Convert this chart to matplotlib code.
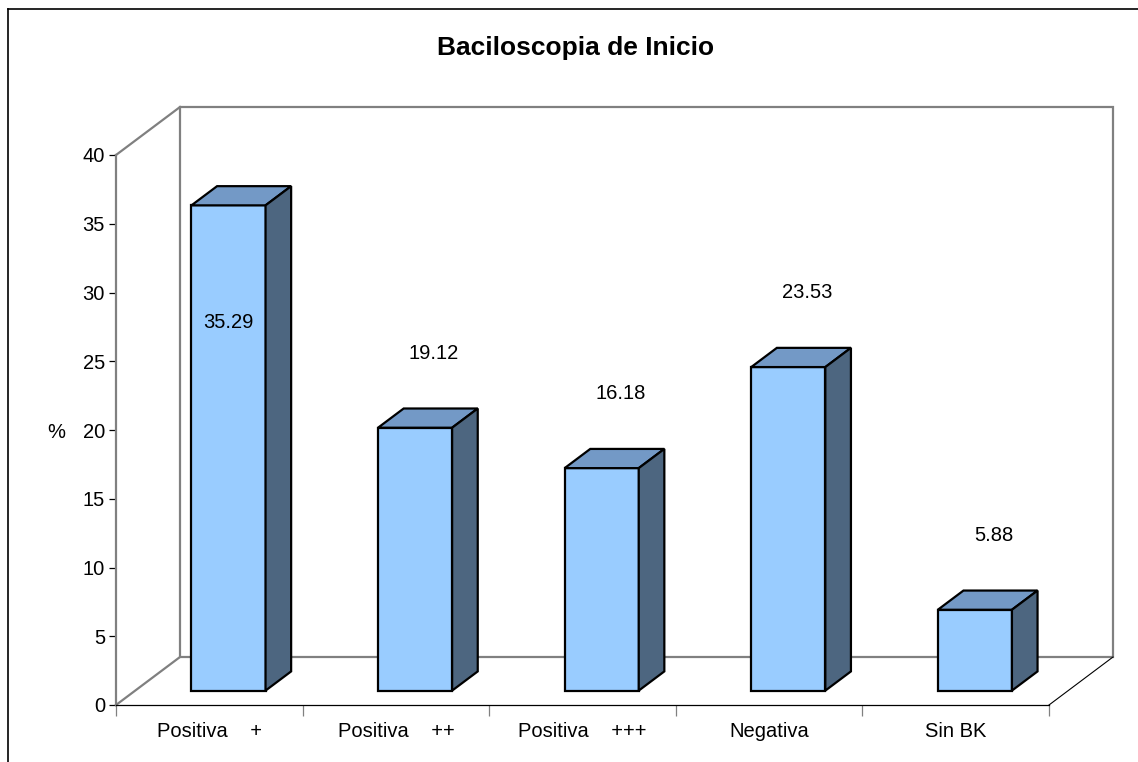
import matplotlib
matplotlib.use("Agg")
import matplotlib.pyplot as plt
from matplotlib.patches import Polygon, Rectangle
from matplotlib.lines import Line2D

# datos de baciloscopia de inicio (%)
categorias = ["Positiva    +", "Positiva    ++", "Positiva    +++", "Negativa", "Sin BK"]
valores = [35.29, 19.12, 16.18, 23.53, 5.88]
ticks_y = [0, 5, 10, 15, 20, 25, 30, 35, 40]

plt.rcParams['font.family'] = ['Liberation Sans', 'DejaVu Sans']
FS = 14.5

W, H = 1138, 762
fig = plt.figure(figsize=(W / 100, H / 100), dpi=100)
fig.patch.set_facecolor('white')

# marco exterior
fig.add_artist(Line2D([8 / W, 8 / W], [0, 1 - 9 / H], color='black', lw=1.2))
fig.add_artist(Line2D([8 / W, 1], [1 - 9 / H, 1 - 9 / H], color='black', lw=1.2))

ax = fig.add_axes([116 / W, 57 / H, 933 / W, 550 / H])
n = len(valores)
ax.set_xlim(-0.5, n - 0.5)
ax.set_ylim(0, 40)

# profundidad de la perspectiva en unidades de datos
DX = 64 * n / 933
DY = 48 * 40 / 550
GRIS = '#808080'

# pared de fondo y lateral
ax.add_patch(Rectangle((-0.5 + DX, DY), n, 40, fill=False, edgecolor=GRIS,
                       lw=1.6, clip_on=False, zorder=1))
ax.plot([-0.5, -0.5 + DX], [40, 40 + DY], color=GRIS, lw=1.6, clip_on=False, zorder=1)
ax.plot([-0.5, -0.5 + DX], [0, DY], color=GRIS, lw=1.6, clip_on=False, zorder=1)
ax.plot([n - 0.5, n - 0.5 + DX], [0, DY], color='black', lw=0.8, clip_on=False, zorder=1)

# barras 3D
ancho = 0.397
f0, f1 = 0.3, 0.4
frente = '#99CCFF'
arriba = '#7399C6'
lado = '#4D6680'
for i, v in enumerate(valores):
    x0 = i + f0 * DX - ancho / 2
    x1 = x0 + ancho
    y0 = f0 * DY
    y1 = y0 + v
    ddx, ddy = f1 * DX, f1 * DY
    kw = dict(edgecolor='black', lw=1.6, joinstyle='miter', clip_on=False, zorder=3)
    ax.add_patch(Polygon([(x0, y0), (x1, y0), (x1, y1), (x0, y1)], facecolor=frente, **kw))
    ax.add_patch(Polygon([(x0, y1), (x1, y1), (x1 + ddx, y1 + ddy), (x0 + ddx, y1 + ddy)],
                         facecolor=arriba, **kw))
    ax.add_patch(Polygon([(x1, y0), (x1 + ddx, y0 + ddy), (x1 + ddx, y1 + ddy), (x1, y1)],
                         facecolor=lado, **kw))
    # etiqueta del valor
    if v + 5.4 > 38:
        ax.text(i + f0 * DX, y0 + v - 8.5, f"{v:.2f}", ha='center', va='center',
                fontsize=FS, zorder=4)
    else:
        ax.text(i + f0 * DX + 0.1, y0 + v + 5.4, f"{v:.2f}", ha='center', va='center',
                fontsize=FS, zorder=4)

# ejes
for s in ['top', 'right']:
    ax.spines[s].set_visible(False)
ax.spines['left'].set_color(GRIS)
ax.spines['left'].set_linewidth(1.6)
ax.spines['bottom'].set_color('black')
ax.spines['bottom'].set_linewidth(0.9)
ax.spines['left'].set_zorder(2)

ax.set_yticks(ticks_y)
ax.set_yticklabels([str(t) for t in ticks_y], fontsize=FS)
ax.tick_params(axis='y', direction='out', length=5, width=0.9, color='black', pad=3)

ax.set_xticks([k - 0.5 for k in range(n + 1)])
ax.set_xticklabels([])
ax.set_xticks(range(n), minor=True)
ax.set_xticklabels(categorias, minor=True, fontsize=FS)
ax.tick_params(axis='x', which='major', direction='out', length=8, width=0.9, color=GRIS)
ax.tick_params(axis='x', which='minor', length=0, pad=12.5)
ax.patch.set_alpha(0)

fig.text(56 / W, 1 - 432 / H, "%", ha='center', va='center', fontsize=FS)
fig.text(576 / W, 1 - 48 / H, "Baciloscopia de Inicio", ha='center', va='center',
         fontsize=19, fontweight='bold')

fig.savefig("out.png", dpi=100, facecolor='white')
